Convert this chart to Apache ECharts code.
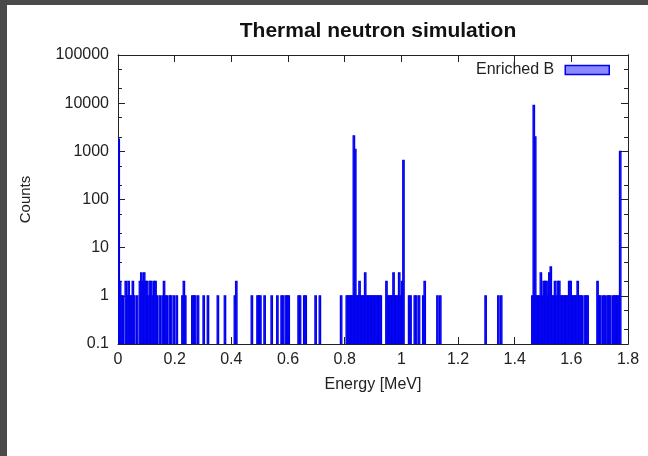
<!DOCTYPE html>
<html>
<head>
<meta charset="utf-8">
<script src="https://cdn.jsdelivr.net/npm/echarts@6/dist/echarts.min.js"></script>
<style>
  html, body { margin: 0; padding: 0; background: #4a4a4a; }
  #panel { position: absolute; left: 7px; top: 5px; width: 641px; height: 451px; background: #ffffff; }
  #chart { position: absolute; left: 0; top: 0; width: 648px; height: 456px; }
</style>
</head>
<body>
<div id="panel"></div>
<div id="chart"></div>
<script>
// Histogram bin width (MeV) and non-empty bins: bin start energy [MeV] and counts
const binWidth = 0.005;
const energy = [
  0, 0.005, 0.01, 0.015, 0.025, 0.03, 0.035, 0.04, 0.045, 0.05, 0.055, 0.065, 0.075, 0.08, 0.085, 0.09, 0.095,
  0.1, 0.105, 0.11, 0.115, 0.12, 0.125, 0.13, 0.135, 0.145, 0.155, 0.16, 0.165, 0.17, 0.18, 0.185, 0.195,
  0.205, 0.225, 0.23, 0.235, 0.26, 0.265, 0.27, 0.28, 0.3, 0.315, 0.35, 0.375, 0.41, 0.415, 0.47, 0.49, 0.495,
  0.5, 0.515, 0.54, 0.56, 0.575, 0.58, 0.59, 0.595, 0.6, 0.635, 0.64, 0.655, 0.66, 0.695, 0.71, 0.785,
  0.805, 0.81, 0.815, 0.82, 0.825, 0.83, 0.835, 0.84, 0.845, 0.85, 0.855, 0.86, 0.865, 0.87, 0.875, 0.88, 0.885,
  0.89, 0.895, 0.9, 0.905, 0.91, 0.915, 0.92, 0.925, 0.945, 0.95, 0.955, 0.96, 0.965, 0.97, 0.975, 0.98, 0.985,
  0.99, 0.995, 1.0, 1.005, 1.025, 1.03, 1.045, 1.05, 1.06, 1.075, 1.08, 1.125, 1.135,
  1.295, 1.34, 1.35, 1.46, 1.465, 1.47, 1.475, 1.48, 1.485, 1.49, 1.495, 1.5, 1.505, 1.51, 1.515, 1.52, 1.525,
  1.53, 1.535, 1.54, 1.545, 1.55, 1.555, 1.56, 1.565, 1.57, 1.575, 1.58, 1.585, 1.59, 1.595, 1.6, 1.605, 1.61,
  1.615, 1.62, 1.625, 1.63, 1.635, 1.645, 1.65, 1.655, 1.69, 1.695, 1.7, 1.71, 1.715, 1.725, 1.73, 1.735,
  1.745, 1.75, 1.755, 1.76, 1.765, 1.77
];
const counts = [
  1800, 2, 1, 1, 2, 1, 2, 1, 1, 2, 1, 1, 2, 3, 2, 3, 2,
  2, 1, 2, 2, 1, 2, 2, 1, 1, 1, 2, 1, 1, 1, 1, 1,
  1, 1, 2, 1, 1, 1, 1, 1, 1, 1, 1, 1, 1, 2, 1, 1, 1,
  1, 1, 1, 1, 1, 1, 1, 1, 1, 1, 1, 1, 1, 1, 1, 1,
  1, 1, 1, 1, 1, 2100, 1100, 1, 1, 2, 1, 1, 1, 3, 1, 1, 1,
  1, 1, 1, 1, 1, 1, 1, 1, 2, 1, 1, 1, 1, 3, 1, 1, 1,
  3, 1, 2, 650, 1, 1, 1, 1, 1, 1, 2, 1, 1,
  1, 1, 1, 1, 9000, 2000, 1, 1, 1, 3, 1, 2, 2, 2, 1, 3, 4,
  1, 1, 2, 1, 2, 2, 1, 1, 1, 1, 1, 1, 2, 2, 1, 1, 1,
  1, 2, 1, 1, 1, 1, 1, 1, 2, 1, 1, 1, 1, 1, 1, 1,
  1, 1, 1, 1, 1, 1000
];
const xTicks = [0, 0.2, 0.4, 0.6, 0.8, 1, 1.2, 1.4, 1.6, 1.8];
const yTicks = [0.1, 1, 10, 100, 1000, 10000, 100000];
const yMinorTicks = [0.2, 0.5, 2, 5, 20, 50, 200, 500, 2000, 5000, 20000, 50000];
const seriesName = 'Enriched B';

const xMin = xTicks[0], xMax = xTicks[xTicks.length - 1];
const yMin = yTicks[0], yMax = yTicks[yTicks.length - 1];
const data = energy.map((e, i) => [e, counts[i]]);

const font = 'Liberation Sans, Arial, Helvetica, sans-serif';
const textColor = '#222';
const lineColor = '#222';

function yAxisCfg(pos, showLabels, ticks, tickLen, showLine) {
  return {
    type: 'log', logBase: 10, min: yMin, max: yMax, position: pos,
    axisLine: { show: showLine, onZero: false, lineStyle: { color: lineColor, width: 1 } },
    axisTick: { show: true, inside: true, length: tickLen, customValues: ticks, lineStyle: { color: lineColor } },
    splitLine: { show: false },
    axisLabel: {
      show: showLabels, color: textColor, fontFamily: font, fontSize: 16, margin: 9,
      customValues: ticks,
      formatter: v => String(Number(Number(v).toPrecision(6)))
    }
  };
}
function xAxisCfg(pos, showLabels) {
  return {
    type: 'value', min: xMin, max: xMax, interval: 0.2, position: pos,
    axisLine: { show: true, onZero: false, lineStyle: { color: lineColor, width: 1 } },
    axisTick: { show: true, inside: true, length: 7, lineStyle: { color: lineColor } },
    splitLine: { show: false },
    axisLabel: {
      show: showLabels, color: textColor, fontFamily: font, fontSize: 16, margin: 8,
      formatter: v => String(Number(Number(v).toFixed(1)))
    }
  };
}

const chart = echarts.init(document.getElementById('chart'), null, { renderer: 'canvas' });
const xb = xAxisCfg('bottom', true);
xb.name = 'Energy [MeV]';
xb.nameLocation = 'middle';
xb.nameGap = 33;
xb.nameTextStyle = { color: textColor, fontFamily: font, fontSize: 16 };
const yl = yAxisCfg('left', true, yTicks, 7, true);
yl.name = 'Counts';
yl.nameLocation = 'middle';
yl.nameGap = 85;
yl.nameTextStyle = { color: textColor, fontFamily: font, fontSize: 15 };

chart.setOption({
  backgroundColor: 'transparent',
  animation: false,
  title: {
    text: 'Thermal neutron simulation',
    left: 373, top: 16, textAlign: 'center',
    textStyle: { color: '#111', fontFamily: font, fontSize: 21, fontWeight: 'bold' }
  },
  legend: {
    data: [seriesName],
    right: 33, top: 57, align: 'right',
    itemWidth: 44, itemHeight: 9,
    icon: 'rect',
    itemStyle: { color: 'rgba(60,60,255,0.6)', borderColor: '#0000ee', borderWidth: 1.5 },
    textStyle: { color: textColor, fontFamily: font, fontSize: 16, padding: [0, 6, 0, 0] }
  },
  grid: { left: 118, right: 20, top: 55, bottom: 112, containLabel: false },
  xAxis: [xb, xAxisCfg('top', false)],
  yAxis: [
    yl,
    yAxisCfg('right', false, yTicks, 7, true),
    yAxisCfg('left', false, yMinorTicks, 4, true),
    yAxisCfg('right', false, yMinorTicks, 4, true)
  ],
  series: [{
    name: seriesName,
    type: 'custom',
    xAxisIndex: 0, yAxisIndex: 0,
    clip: true,
    itemStyle: { color: 'rgba(0,0,255,0.5)' },
    data: data,
    encode: { x: 0, y: 1 },
    renderItem: function (params, api) {
      const x0 = api.value(0), y = api.value(1);
      const pTop = api.coord([x0, y]);
      const pBot = api.coord([x0 + binWidth, yMin]);
      return {
        type: 'rect',
        shape: { x: pTop[0], y: pTop[1], width: pBot[0] - pTop[0], height: pBot[1] - pTop[1] },
        style: { fill: 'rgba(0,0,255,0.5)', stroke: '#0000ee', lineWidth: 1.3 }
      };
    }
  }]
});
</script>
</body>
</html>
